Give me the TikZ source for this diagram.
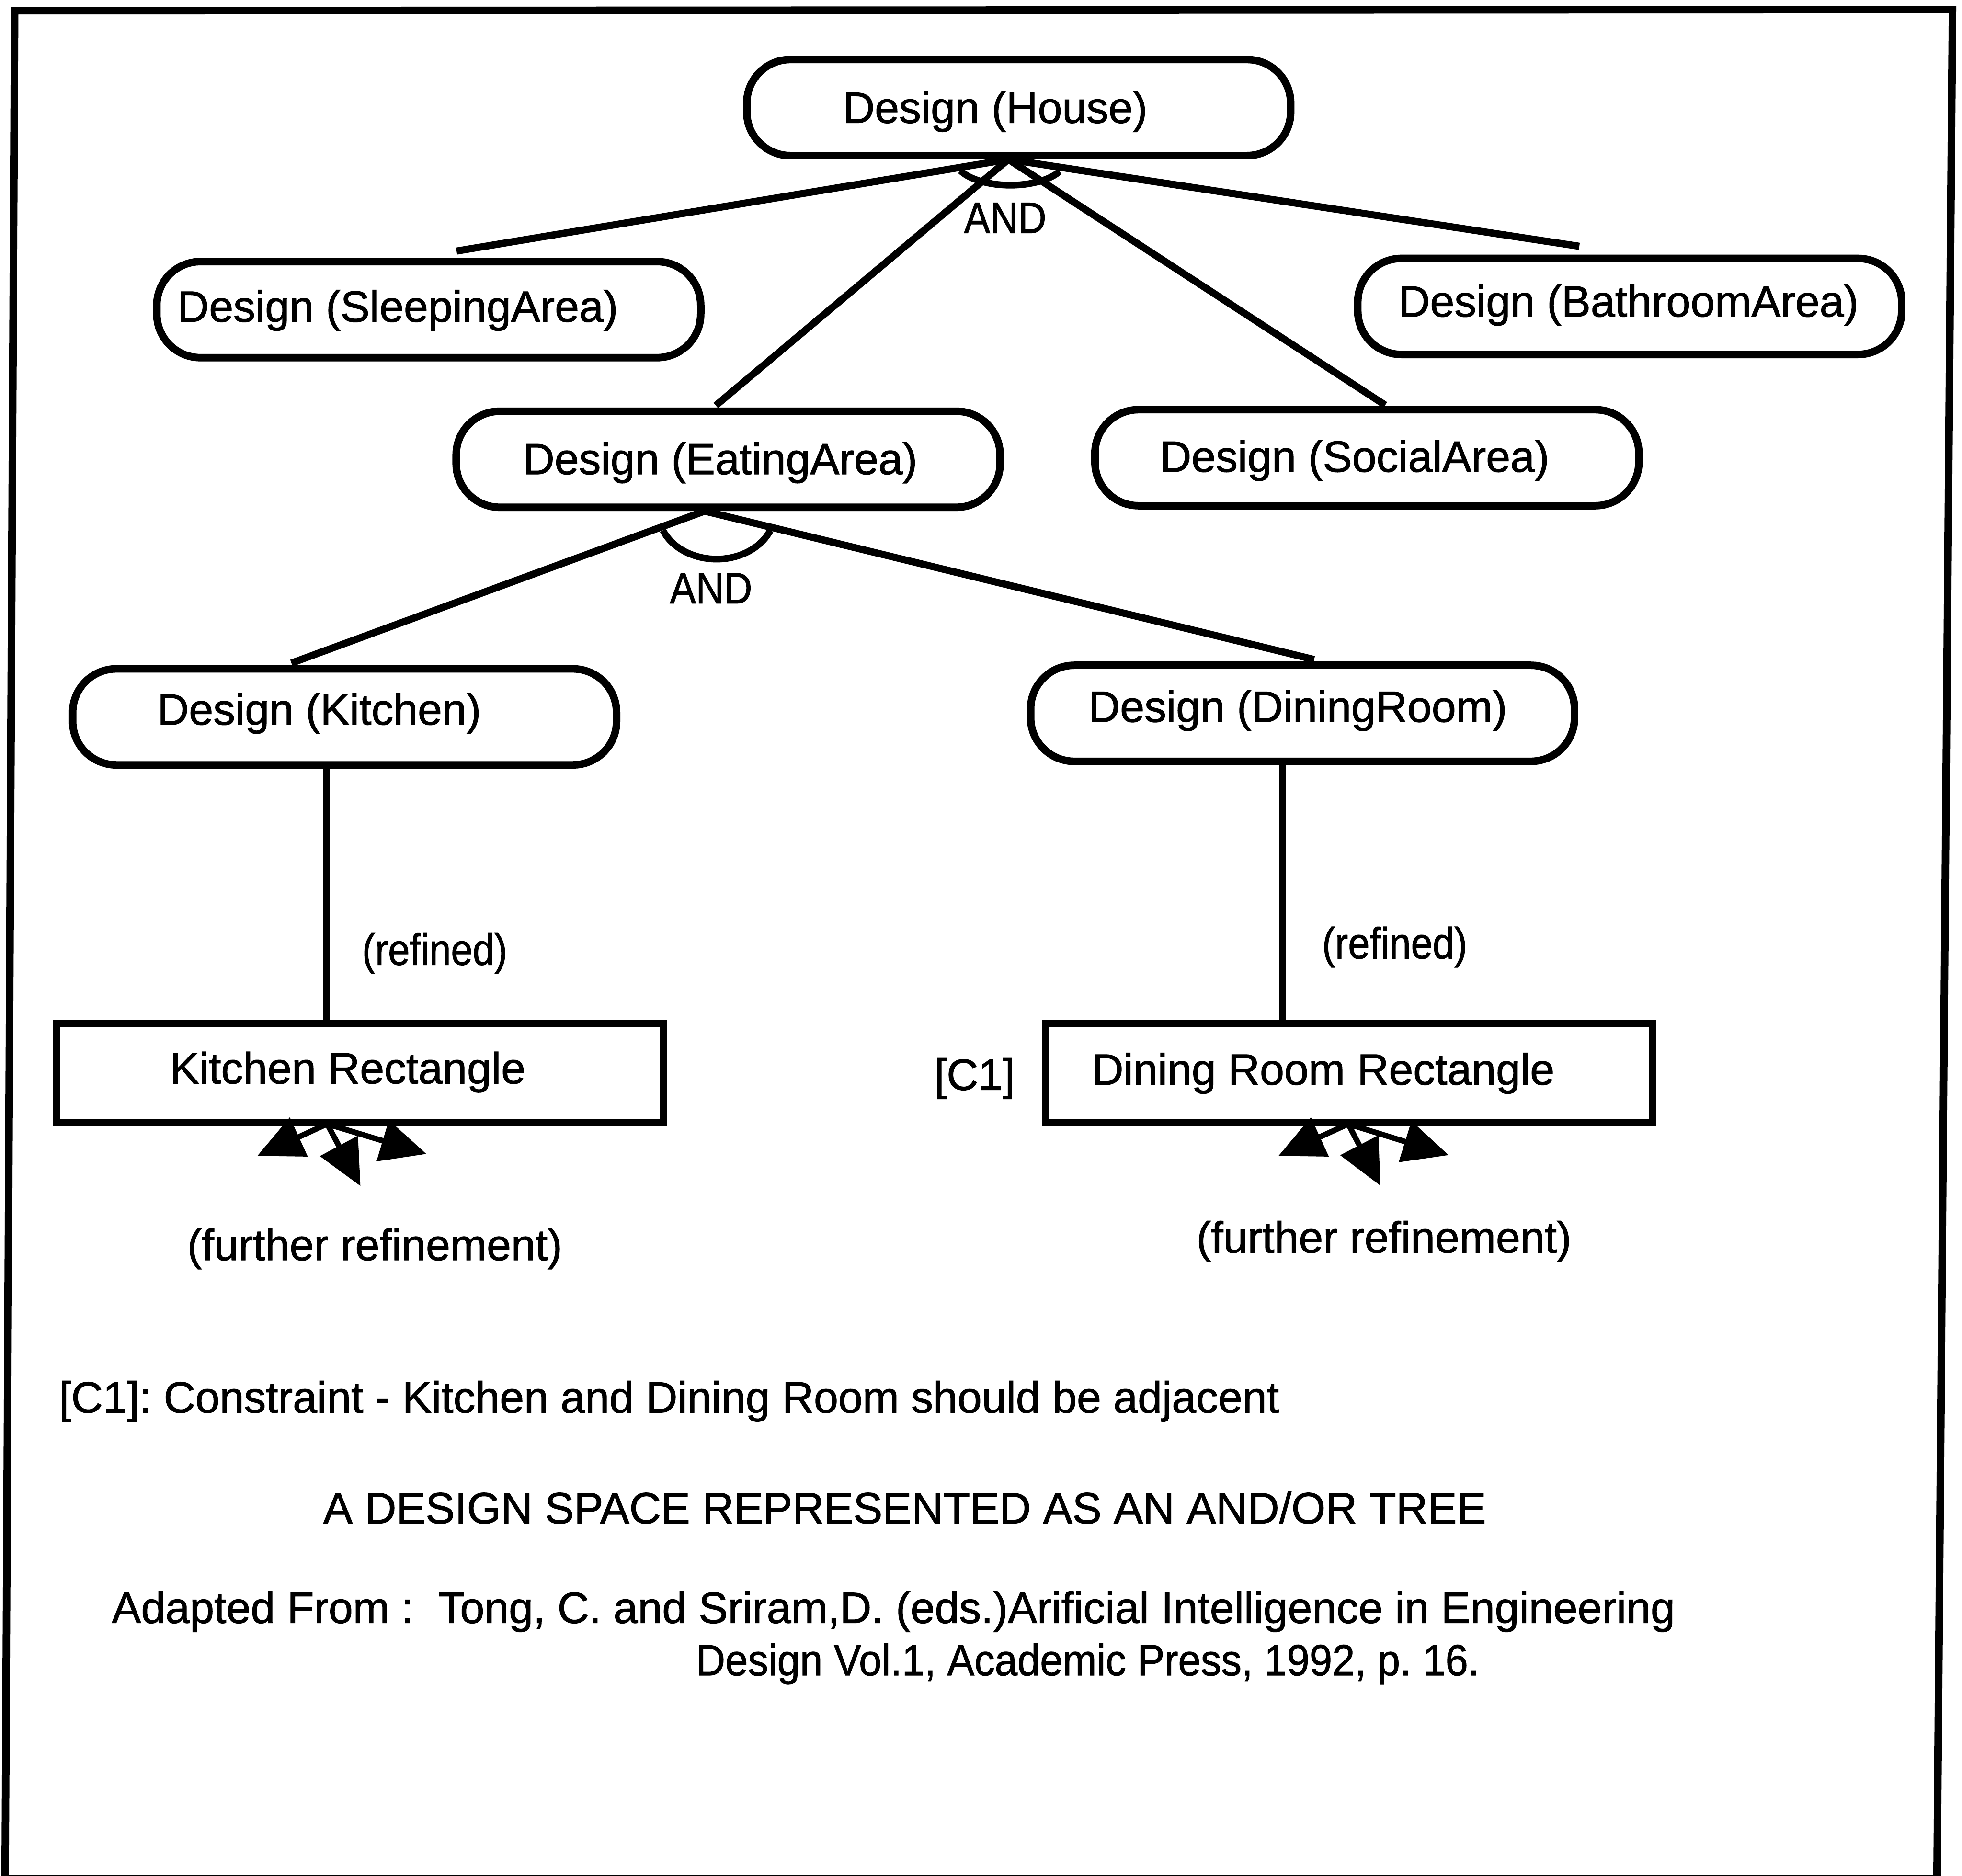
\documentclass[tikz,border=0pt]{standalone}
\usepackage{graphicx}
\usepackage{fontspec}
\setmainfont{Liberation Sans}[BoldFont={Liberation Sans}, BoldFeatures={FakeBold=1.2}]
\usetikzlibrary{arrows.meta,calc}
\begin{document}
\frenchspacing
\begin{tikzpicture}[
  x=1cm,y=1cm,
  every node/.style={font=\fontsize{31.4pt}{37pt}\selectfont\bfseries},
  ovalbox/.style={draw, line width=0.19cm, rounded corners=1.1cm,
    minimum width=13.7cm, minimum height=2.42cm, inner sep=0pt},
  rectbox/.style={draw, line width=0.18cm, minimum width=15.28cm,
    minimum height=2.49cm, inner sep=0pt},
  lbl/.style={inner sep=0pt},
  conn/.style={line width=0.18cm},
  andarc/.style={line width=0.17cm},
  farrow/.style={line width=0.14cm, -{Triangle[length=1.15cm,width=1.05cm]}}
]
\useasboundingbox (0,0) rectangle (49.42,-47.26);

% outer frame
\draw[line width=0.19cm, line join=miter]
  (0.37,-0.27) -- (49.18,-0.24) -- (48.79,-47.32) -- (0.13,-47.32) -- cycle;

% tree nodes
\node[ovalbox] (house)   at (25.66,-2.71)  {};
\node[ovalbox] (sleep)   at (10.80,-7.80)  {};
\node[ovalbox] (bath)    at (41.05,-7.72)  {};
\node[ovalbox] (eat)     at (18.34,-11.57) {};
\node[ovalbox] (social)  at (34.43,-11.53) {};
\node[ovalbox] (kitchen) at (8.68,-18.06)  {};
\node[ovalbox] (dining)  at (32.81,-17.97) {};
\node[rectbox] (krect)   at (9.06,-27.03)  {};
\node[rectbox] (drect)   at (33.98,-27.03) {};

% node captions
\node[lbl] (houseT)   at (25.07,-2.81)  {Design (House)};
\node[lbl] (sleepT)   at (10.02,-7.82)  {Design (SleepingArea)};
\node[lbl] (bathT)    at (41.02,-7.69)  {Design (BathroomArea)};
\node[lbl] (eatT)     at (18.14,-11.66) {Design (EatingArea)};
\node[lbl] (socialT)  at (34.12,-11.60) {Design (SocialArea)};
\node[lbl] (kitchenT) at (8.04,-17.97)  {Design (Kitchen)};
\node[lbl] (diningT)  at (32.69,-17.90) {Design (DiningRoom)};
\node[lbl] (krectT)   at (8.76,-27.01)  {Kitchen Rectangle};
\node[lbl] (drectT)   at (33.33,-27.04) {Dining Room Rectangle};
\node[lbl] (c1)       at (24.55,-27.17) {[C1]};

% AND decomposition of the house
\coordinate (hA)   at ($(house.south)+(-0.26,0)$);
\coordinate (hArc) at ($(house.south)+(-0.21,0)$);
\draw[conn] (hA) -- ($(sleep.north)+(0.70,0.17)$);
\draw[conn] (hA) -- ($(bath.north)+(-1.27,0.21)$);
\draw[conn] (hA) -- ($(eat.north)+(-0.31,0.05)$);
\draw[conn] (hA) -- ($(social.north)+(0.46,0.02)$);
\draw[andarc] (hArc) ++(206:1.40cm and 0.65cm)
  arc[start angle=206, end angle=332, x radius=1.40cm, y radius=0.65cm];
\node[lbl] (and1) at (25.32,-5.49) {\scalebox{0.89}[1]{AND}};

% AND decomposition of the eating area
\coordinate (eA)   at ($(eat.south)+(-0.59,0)$);
\coordinate (eArc) at ($(eat.south)+(-0.29,-0.02)$);
\draw[conn] (eA) -- ($(kitchen.north)+(-1.34,0.05)$);
\draw[conn] (eA) -- ($(dining.north)+(0.29,0.05)$);
\draw[andarc] (eArc) ++(203:1.47cm and 1.19cm)
  arc[start angle=203, end angle=337, x radius=1.47cm, y radius=1.19cm];
\node[lbl] (and2) at (17.91,-14.82) {\scalebox{0.89}[1]{AND}};

% refinement into rectangles
\coordinate (kx) at (8.23,0);
\coordinate (dx) at (32.31,0);
\draw[line width=0.17cm] (kitchen.south -| kx) -- (krect.north -| kx);
\draw[line width=0.17cm] (dining.south -| dx) -- (drect.north -| dx);
\node[lbl] (ref1) at (10.95,-24.02) {\scalebox{0.89}[1]{(refined)}};
\node[lbl] (ref2) at (35.13,-23.86) {\scalebox{0.89}[1]{(refined)}};

% further refinement arrows
\coordinate (kO)  at ($(krect.south)+(-0.82,0.05)$);
\coordinate (kt1) at (6.48,-29.12);
\coordinate (kt2) at (9.08,-29.88);
\coordinate (kt3) at (10.74,-29.07);
\draw[farrow] (kO) -- (kt1);
\draw[farrow] (kO) -- (kt2);
\draw[farrow] (kO) -- (kt3);
\coordinate (dO)  at ($(drect.south)+(-0.02,0.05)$);
\coordinate (dt1) at (32.20,-29.12);
\coordinate (dt2) at (34.77,-29.87);
\coordinate (dt3) at (36.49,-29.10);
\draw[farrow] (dO) -- (dt1);
\draw[farrow] (dO) -- (dt2);
\draw[farrow] (dO) -- (dt3);
\node[lbl] (fur1) at (9.44,-31.46)  {(further refinement)};
\node[lbl] (fur2) at (34.86,-31.27) {(further refinement)};

% notes and caption
\node[lbl, anchor=west] (note) at (1.48,-35.30)
  {[C1]: Constraint - Kitchen and Dining Room should be adjacent};
\node[lbl] (title) at (22.79,-37.98)
  {A DESIGN SPACE REPRESENTED AS AN AND/OR TREE};
\node[lbl, anchor=west] (src1) at (2.81,-40.60)
  {Adapted From :\ \ Tong, C. and Sriram,D. (eds.)Arificial Intelligence in Engineering};
\node[lbl, anchor=west] (src2) at (17.52,-41.92)
  {\scalebox{0.93}[1]{Design Vol.1, Academic Press, 1992, p. 16.}};
\end{tikzpicture}
\end{document}
